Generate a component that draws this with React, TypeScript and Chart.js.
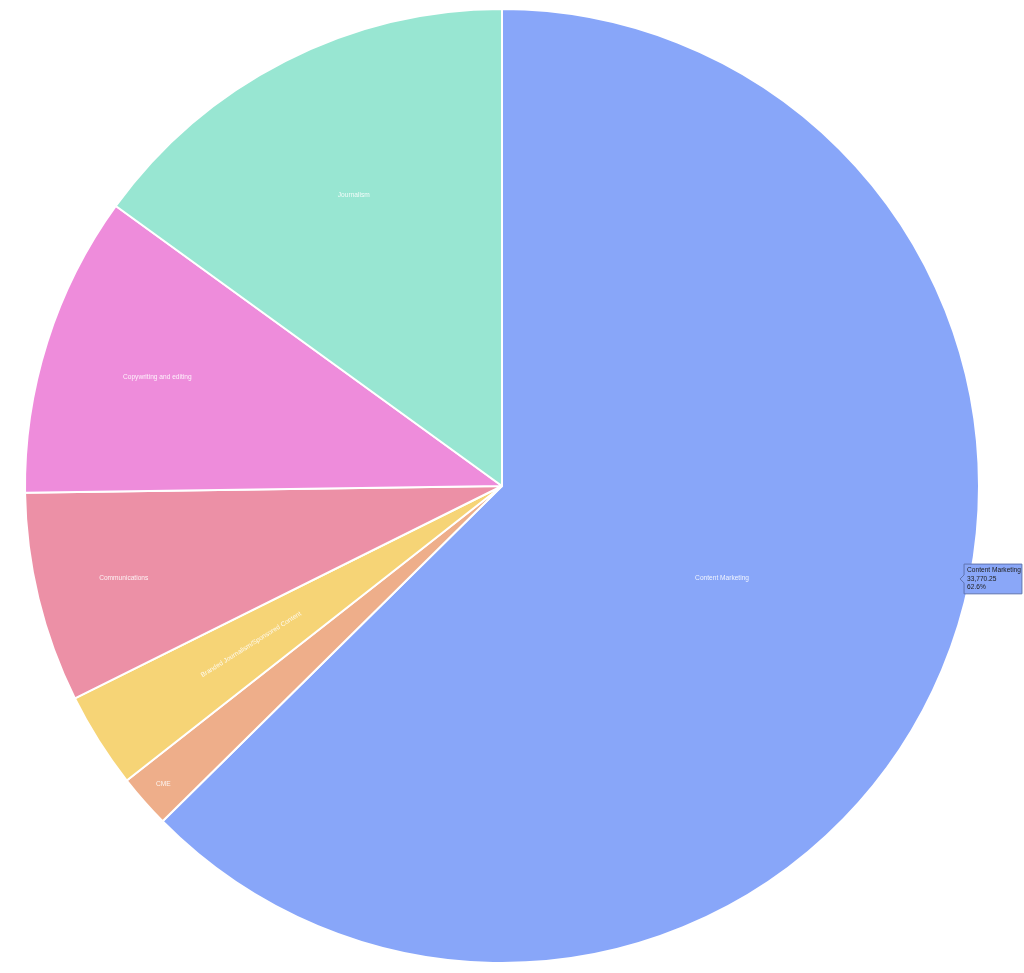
import React, { useEffect, useRef } from 'react';
import { Chart, registerables, Tooltip } from 'chart.js';

Chart.register(...registerables);

// ---- data ----
const categories = [
  'Content Marketing',
  'CME',
  'Branded Journalism/Sponsored Content',
  'Communications',
  'Copywriting and editing',
  'Journalism',
];
const values = [33770.25, 976, 1750, 3840, 5510, 8100];
const colors = ['#88a6f9', '#eeae8a', '#f6d476', '#ec90a6', '#ee8cdb', '#98e6d2'];

// ---- label styling (radial placement as fraction of radius, rotation flag) ----
const labelRadius = [0.5, 0.946, 0.622, 0.816, 0.758, 0.684];
const labelRotated = [false, false, true, false, false, false];

const FONT = "'Liberation Sans', Arial, Helvetica, sans-serif";
const FONT_SIZE = 6.6;

(Tooltip as any).positioners.hoverPoint = function (_items: any, eventPosition: any) {
  if (!eventPosition) return false;
  return { x: eventPosition.x, y: eventPosition.y };
};

const sliceLabels = {
  id: 'sliceLabels',
  afterDatasetsDraw(chart: any) {
    const ctx = chart.ctx;
    const meta = chart.getDatasetMeta(0);
    ctx.save();
    ctx.font = `${FONT_SIZE}px ${FONT}`;
    ctx.fillStyle = 'rgba(255,255,255,0.88)';
    ctx.textAlign = 'center';
    ctx.textBaseline = 'middle';
    meta.data.forEach((arc: any, i: number) => {
      const { x, y, startAngle, endAngle, outerRadius } = arc.getProps(
        ['x', 'y', 'startAngle', 'endAngle', 'outerRadius'],
        true
      );
      const mid = (startAngle + endAngle) / 2;
      const r = outerRadius * labelRadius[i];
      const lx = x + Math.cos(mid) * r;
      const ly = y + Math.sin(mid) * r;
      ctx.save();
      ctx.translate(lx, ly);
      if (labelRotated[i]) {
        let rot = mid;
        if (Math.cos(mid) < 0) rot += Math.PI;
        ctx.rotate(rot);
      }
      ctx.fillText(categories[i], 0, 0);
      ctx.restore();
    });
    ctx.restore();
  },
};

export default function App() {
  const ref = useRef<HTMLCanvasElement>(null);

  useEffect(() => {
    if (!ref.current) return;
    const total = values.reduce((a, b) => a + b, 0);
    const chart = new Chart(ref.current, {
      type: 'pie',
      data: {
        labels: categories,
        datasets: [
          {
            data: values,
            backgroundColor: colors,
            borderColor: '#ffffff',
            borderWidth: 2,
            hoverOffset: 0,
            hoverBackgroundColor: colors,
            hoverBorderColor: '#ffffff',
          },
        ],
      },
      options: {
        responsive: false,
        animation: false,
        events: [],
        layout: { padding: { top: 8, bottom: 9, left: 0, right: 20 } },
        plugins: {
          legend: { display: false },
          tooltip: {
            enabled: true,
            position: 'hoverPoint' as any,
            xAlign: 'left',
            yAlign: 'center',
            backgroundColor: '#8aa7f8',
            borderColor: '#5f74b0',
            borderWidth: 1,
            cornerRadius: 0,
            caretSize: 4,
            caretPadding: 0,
            displayColors: false,
            padding: { left: 3, right: 1, top: 2, bottom: 2 },
            titleColor: '#222222',
            bodyColor: '#222222',
            titleFont: { family: FONT, size: FONT_SIZE, weight: 'normal' as any, lineHeight: 1.3 },
            bodyFont: { family: FONT, size: FONT_SIZE, lineHeight: 1.3 },
            titleMarginBottom: 0,
            titleSpacing: 0,
            bodySpacing: 0,
            callbacks: {
              title: (items: any[]) => (items.length ? items[0].label : ''),
              label: (item: any) => {
                const v = item.raw as number;
                return [
                  v.toLocaleString('en-US', { minimumFractionDigits: 2, maximumFractionDigits: 2 }),
                  ((v / total) * 100).toFixed(1) + '%',
                ];
              },
            },
          },
        },
      },
      plugins: [sliceLabels],
    });

    const meta = chart.getDatasetMeta(0);
    const el: any = meta.data[0];
    if (el) {
      const tp = el.tooltipPosition();
      const dy = tp.y - el.y;
      const hx = el.x + Math.sqrt(el.outerRadius * el.outerRadius - dy * dy) - 10;
      chart.tooltip!.setActiveElements([{ datasetIndex: 0, index: 0 }], { x: hx, y: tp.y + 1 });
      chart.update();
    }

    return () => chart.destroy();
  }, []);

  return (
    <canvas
      ref={ref}
      width={1024}
      height={973}
      style={{ position: 'absolute', left: 0, top: 0, width: 1024, height: 973 }}
    />
  );
}
